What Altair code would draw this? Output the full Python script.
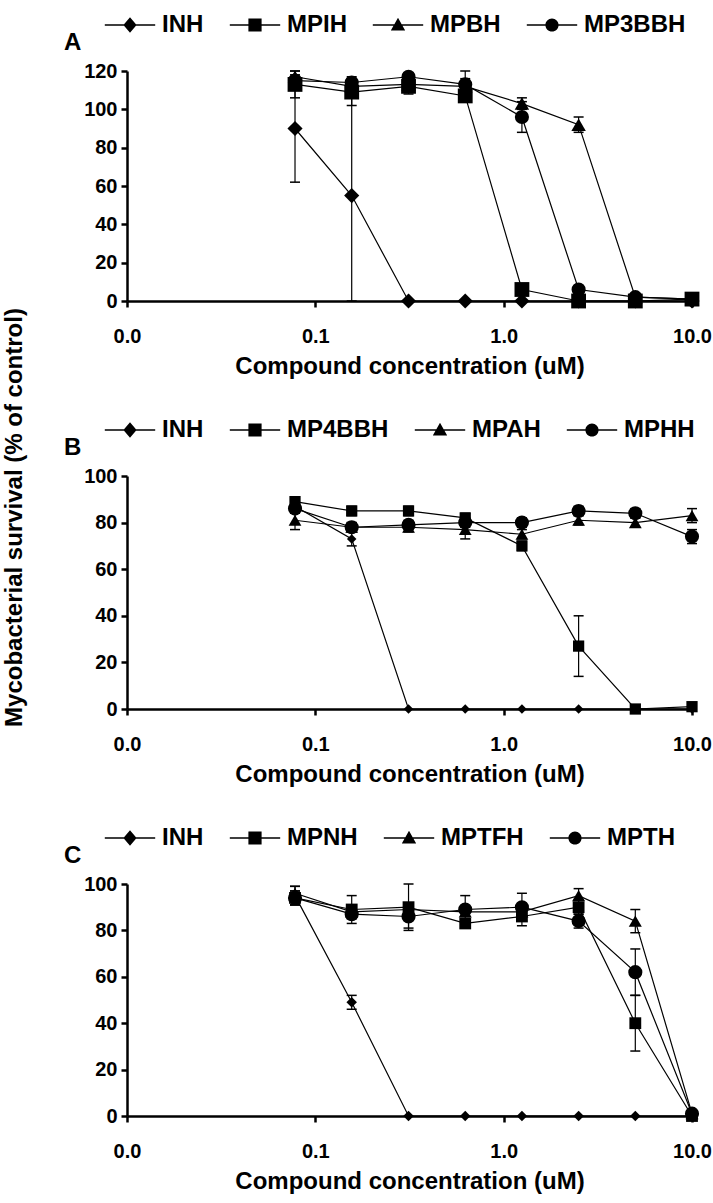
import altair as alt
import pandas as pd

# concentrations (uM)
CONC = [0.078, 0.156, 0.3125, 0.625, 1.25, 2.5, 5, 10]

# Panel A
A_NAMES = ["INH", "MPIH", "MPBH", "MP3BBH"]
A_INH = [90, 55, 0, 0, 0, 0, 0, 0]
A_MPIH = [113, 109, 112, 107, 6, 0, 0, 1]
A_MPBH = [117, 112, 113, 112, 103, 92, 2, 1]
A_MP3BBH = [115, 114, 117, 113, 96, 6, 2, 1]
A_INH_ERR = [28, 55, 0, 0, 0, 0, 0, 0]
A_MPIH_ERR = [7, 7, 4, 2, 2, 0, 0, 0]
A_MPBH_ERR = [3, 3, 2, 8, 3, 4, 1, 0]
A_MP3BBH_ERR = [2, 3, 2, 3, 8, 2, 1, 0]

# Panel B
B_NAMES = ["INH", "MP4BBH", "MPAH", "MPHH"]
B_INH = [87, 73, 0, 0, 0, 0, 0, 0]
B_MP4BBH = [89, 85, 85, 82, 70, 27, 0, 1]
B_MPAH = [81, 78, 78, 77, 75, 81, 80, 83]
B_MPHH = [86, 78, 79, 80, 80, 85, 84, 74]
B_INH_ERR = [3, 3, 0, 0, 0, 0, 0, 0]
B_MP4BBH_ERR = [2, 2, 2, 2, 2, 13, 0, 0]
B_MPAH_ERR = [4, 2, 2, 4, 2, 2, 2, 3]
B_MPHH_ERR = [2, 2, 2, 2, 2, 2, 2, 3]

# Panel C
C_NAMES = ["INH", "MPNH", "MPTFH", "MPTH"]
C_INH = [95, 49, 0, 0, 0, 0, 0, 0]
C_MPNH = [94, 89, 90, 83, 86, 90, 40, 0]
C_MPTFH = [96, 88, 89, 88, 88, 95, 84, 1]
C_MPTH = [94, 87, 86, 89, 90, 84, 62, 1]
C_INH_ERR = [4, 3, 0, 0, 0, 0, 0, 0]
C_MPNH_ERR = [3, 6, 10, 2, 4, 3, 12, 0]
C_MPTFH_ERR = [3, 2, 2, 2, 2, 3, 5, 0]
C_MPTH_ERR = [3, 2, 5, 6, 6, 3, 10, 0]

X_TICKS = [0.01, 0.1, 1, 10]
X_TITLE = "Compound concentration  (uM)"
Y_TITLE = "Mycobacterial survival  (% of control)"

FONT = "Liberation Sans"
MARKERS = ["diamond", "square", "triangle-up", "circle"]
_LINE = "M-2.1,-0.06H2.1V0.06H-2.1Z"
LEGEND_PATHS = [
    _LINE + "M0,-0.65L0.55,0L0,0.65L-0.55,0Z",
    _LINE + "M-0.55,-0.55H0.55V0.55H-0.55Z",
    _LINE + "M0,-0.6L0.6,0.45H-0.6Z",
    _LINE + "M0.55,0A0.55,0.55,0,1,1,-0.55,0A0.55,0.55,0,1,1,0.55,0Z",
]


def make_df(names, vals, errs):
    rows = []
    for n, vs, es in zip(names, vals, errs):
        for c, v, e in zip(CONC, vs, es):
            rows.append({"series": n, "conc": c, "val": v,
                         "lo": max(v - e, 0), "hi": v + e, "err": e})
    return pd.DataFrame(rows)


def panel(names, vals, errs, letter, ymax, dsize, h):
    df = make_df(names, vals, errs)
    xscale = alt.Scale(type="log", domain=[0.01, 10], nice=False)
    xaxis = alt.Axis(values=X_TICKS, format=".1f", title=X_TITLE,
                     labelPadding=19, titlePadding=8)
    yscale = alt.Scale(domain=[0, ymax], nice=False)
    yaxis = alt.Axis(values=list(range(0, ymax + 1, 20)), title=None,
                     labelPadding=4)

    def X():
        return alt.X("conc:Q", scale=xscale, axis=xaxis)

    def Y(field):
        return alt.Y(field, scale=yscale, axis=yaxis)

    base = alt.Chart(df)
    lines = base.mark_line(color="black", strokeWidth=1.2).encode(
        x=X(), y=Y("val:Q"), detail="series:N")
    eb = base.transform_filter("datum.err > 0")
    bars = eb.mark_rule(color="black", strokeWidth=1.2).encode(
        x=X(), y=Y("lo:Q"), y2="hi:Q")
    cap_hi = eb.mark_tick(color="black", orient="horizontal", size=10,
                          thickness=1.5, opacity=1).encode(x=X(), y=Y("hi:Q"))
    cap_lo = eb.mark_tick(color="black", orient="horizontal", size=10,
                          thickness=1.5, opacity=1).encode(x=X(), y=Y("lo:Q"))
    pts = base.mark_point(filled=True, color="black", opacity=1).encode(
        x=X(), y=Y("val:Q"),
        shape=alt.Shape("series:N", scale=alt.Scale(domain=names, range=MARKERS),
                        legend=None),
        size=alt.Size("series:N",
                      scale=alt.Scale(domain=names, range=[dsize, 200, 170, 210]),
                      legend=None),
    )
    leg = base.transform_filter("false").mark_point(
        filled=True, color="black", opacity=1
    ).encode(
        shape=alt.Shape(
            "series:N",
            scale=alt.Scale(domain=names, range=LEGEND_PATHS),
            legend=alt.Legend(
                title=None, orient="none", legendX=-10, legendY=-59,
                direction="horizontal", columns=4, symbolSize=576,
                symbolFillColor="black", symbolOpacity=1,
                labelOffset=19, columnPadding=22, labelFontSize=24,
                labelFont=FONT, labelFontWeight="bold", labelColor="black",
            ),
        )
    )
    return alt.layer(lines, bars, cap_hi, cap_lo, pts, leg).resolve_scale(
        shape="independent", size="independent"
    ).properties(
        width=565, height=h,
        title=alt.TitleParams(letter, anchor="start", frame="group", dx=-63,
                              offset=-61.5, baseline="alphabetic", fontSize=24,
                              fontWeight="bold", font=FONT, color="black"),
    )


pA = panel(A_NAMES, [A_INH, A_MPIH, A_MPBH, A_MP3BBH],
           [A_INH_ERR, A_MPIH_ERR, A_MPBH_ERR, A_MP3BBH_ERR], "A", 120, 230, 230)
pB = panel(B_NAMES, [B_INH, B_MP4BBH, B_MPAH, B_MPHH],
           [B_INH_ERR, B_MP4BBH_ERR, B_MPAH_ERR, B_MPHH_ERR], "B", 100, 90, 233)
pC = panel(C_NAMES, [C_INH, C_MPNH, C_MPTFH, C_MPTH],
           [C_INH_ERR, C_MPNH_ERR, C_MPTFH_ERR, C_MPTH_ERR], "C", 100, 110, 232)

chart = alt.vconcat(pA, pB, pC, spacing=175, bounds="flush").properties(
    title=alt.TitleParams(Y_TITLE, orient="left", anchor="middle", fontSize=24,
                          fontWeight="bold", font=FONT, color="black",
                          offset=37, dx=85),
    padding={"left": 2, "top": 12, "right": 0, "bottom": 5},
).configure_axis(
    grid=False, domainColor="black", domainWidth=2.5, tickColor="black",
    tickWidth=2.5, tickSize=6, labelFont=FONT, labelFontSize=20,
    labelFontWeight="bold", labelColor="black", labelFlush=False,
    labelOverlap=False, titleFont=FONT, titleFontSize=24,
    titleFontWeight="bold", titleColor="black",
).configure_view(stroke=None)

chart.save("out.html", embed_options={"renderer": "svg", "actions": False})
